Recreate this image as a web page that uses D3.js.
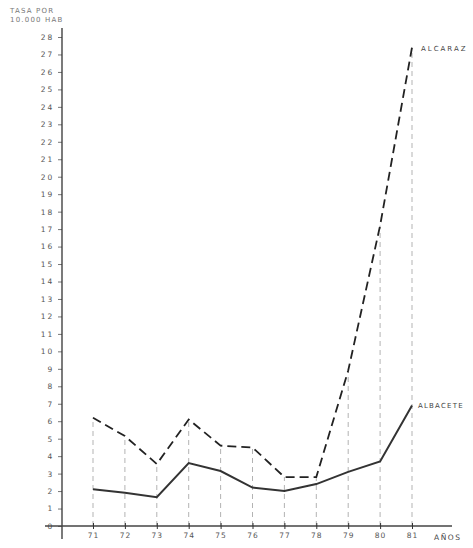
<!DOCTYPE html>
<html>
<head>
<meta charset="utf-8">
<script src="https://cdn.jsdelivr.net/npm/d3@7"></script>
<style>
  html, body { margin: 0; padding: 0; background: #fff; }
  svg text { font-family: "DejaVu Sans", sans-serif; }
</style>
</head>
<body>
<svg id="chart" width="473" height="548"></svg>
<script>
const years = [71, 72, 73, 74, 75, 76, 77, 78, 79, 80, 81];
const alcaraz = [6.2, 5.15, 3.55, 6.1, 4.6, 4.5, 2.8, 2.8, 8.9, 17.2, 27.4];
const albacete = [2.1, 1.9, 1.65, 3.6, 3.15, 2.2, 2.0, 2.4, 3.1, 3.7, 6.9];
const yTicks = d3.range(0, 29);
const seriesLabels = ["ALCARAZ", "ALBACETE"];
const yTitle = ["TASA POR", "10.000 HAB"];
const xTitle = "AÑOS";

const svg = d3.select("#chart");
const x = d3.scaleLinear().domain([71, 81]).range([93, 412]);
const y = d3.scaleLinear().domain([0, 28]).range([526, 37]);

// guide lines
svg.append("g").selectAll("line").data(years).join("line")
  .attr("x1", d => x(d)).attr("x2", d => x(d))
  .attr("y1", y(0)).attr("y2", (d, i) => y(Math.max(alcaraz[i], albacete[i])))
  .attr("stroke", "#aaa").attr("stroke-width", 0.9).attr("stroke-dasharray", "5,4");

// y axis
const yAxis = d3.axisLeft(y).tickValues(yTicks).tickSize(4).tickFormat(d => String(d));
const gy = svg.append("g").attr("transform", "translate(62,0)").call(yAxis);
gy.select(".domain").remove();
gy.selectAll(".tick line").attr("stroke", "#777");
gy.selectAll(".tick text").attr("fill", "#555").attr("font-size", 7.5)
  .attr("letter-spacing", "1.8px").attr("x", -8);
svg.append("line").attr("x1", 62).attr("x2", 62).attr("y1", 28).attr("y2", 539)
  .attr("stroke", "#333").attr("stroke-width", 1.3);

// x axis
svg.append("line").attr("x1", 45).attr("x2", 452).attr("y1", y(0)).attr("y2", y(0))
  .attr("stroke", "#444").attr("stroke-width", 1.5);
const xAxis = d3.axisBottom(x).tickValues(years).tickSize(3).tickFormat(d => String(d));
const gx = svg.append("g").attr("transform", `translate(0,${y(0)})`).call(xAxis);
gx.select(".domain").remove();
gx.selectAll(".tick line").attr("stroke", "#333").attr("y1", -3);
gx.selectAll(".tick text").attr("fill", "#555").attr("font-size", 7.5)
  .attr("letter-spacing", "1px").attr("y", 7);

svg.append("text").attr("x", 434).attr("y", 540).text(xTitle)
  .attr("font-size", 7.5).attr("fill", "#444").attr("letter-spacing", "1.5px");

// y title
svg.selectAll(".ytitle").data(yTitle).join("text")
  .attr("x", 10).attr("y", (d, i) => 13 + i * 9).text(d => d)
  .attr("font-size", 7).attr("fill", "#777").attr("letter-spacing", "1.2px");

// lines
const line = d3.line().x((d, i) => x(years[i])).y(d => y(d));
svg.append("path").datum(alcaraz).attr("d", line)
  .attr("fill", "none").attr("stroke", "#222").attr("stroke-width", 1.8)
  .attr("stroke-dasharray", "9,5");
svg.append("path").datum(albacete).attr("d", line)
  .attr("fill", "none").attr("stroke", "#333").attr("stroke-width", 2);

// series labels
svg.append("text").attr("x", 421).attr("y", y(alcaraz[10]) + 4).text(seriesLabels[0])
  .attr("font-size", 7).attr("fill", "#444").attr("letter-spacing", "2px");
svg.append("text").attr("x", 418).attr("y", y(albacete[10]) + 3).text(seriesLabels[1])
  .attr("font-size", 7).attr("fill", "#444").attr("letter-spacing", "1.2px");
</script>
</body>
</html>
